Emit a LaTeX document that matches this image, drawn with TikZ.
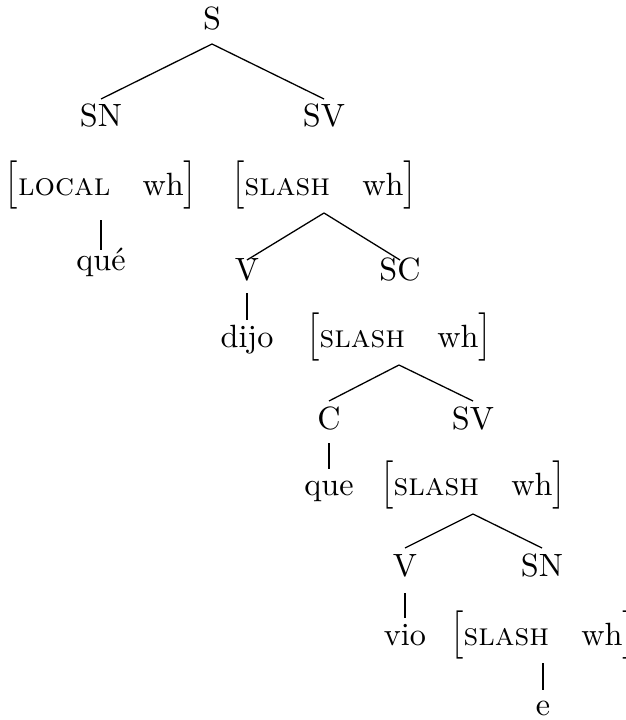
\documentclass[tikz,border=0pt]{standalone}
\usepackage{graphicx}
\usetikzlibrary{calc}
\newcommand{\avmlb}{\scalebox{1}[1.25]{$\bigl[$}}
\newcommand{\avmrb}{\scalebox{1}[1.25]{$\bigr]$}}
\newcommand{\avmbox}[1]{\avmlb\textsc{#1}\quad wh\avmrb}
\begin{document}
\begin{tikzpicture}[x=0.3106pt,y=-0.3106pt,
  every node/.style={inner sep=0pt, anchor=base},
  branch/.style={line width=0.4pt}]
\useasboundingbox (0,0) rectangle (625,720);
% nodes
\node (S)    at (212,30)  {S};
\node (SN1)  at (101,127) {SN};
\node (SV1)  at (324,127) {SV};
\node (A1)   at (101,195) {\avmbox{local}};
\node (A2)   at (324,195) {\avmbox{slash}};
\node (que1) at (101,270) {qué};
\node (V1)   at (247,280) {V};
\node (SC)   at (400,280) {SC};
\node (dijo) at (247,347) {dijo};
\node (A3)   at (399,347) {\avmbox{slash}};
\node (C)    at (329,429) {C};
\node (SV2)  at (473,429) {SV};
\node (que2) at (329,495) {que};
\node (A4)   at (473,495) {\avmbox{slash}};
\node (V2)   at (405,576) {V};
\node (SN2)  at (542,576) {SN};
\node (vio)  at (405,645) {vio};
\node (A5)   at (543,645) {\avmbox{slash}};
\node (e)    at (543,715) {e};
% branches
\draw[branch] ($(S.base)+(0,14)$) -- ($(SN1.base)+(0,-28)$);
\draw[branch] ($(S.base)+(0,14)$) -- ($(SV1.base)+(0,-28)$);
\draw[branch] ($(A1.base)+(0,25)$) -- ($(que1.base)+(0,-20)$);
\draw[branch] ($(A2.base)+(0,18)$) -- ($(V1.base)+(0,-20)$);
\draw[branch] ($(A2.base)+(0,18)$) -- ($(SC.base)+(0,-20)$);
\draw[branch] ($(V1.base)+(0,13)$) -- ($(dijo.base)+(0,-27)$);
\draw[branch] ($(A3.base)+(0,18)$) -- ($(C.base)+(0,-28)$);
\draw[branch] ($(A3.base)+(0,18)$) -- ($(SV2.base)+(0,-28)$);
\draw[branch] ($(C.base)+(0,14)$) -- ($(que2.base)+(0,-26)$);
\draw[branch] ($(A4.base)+(0,19)$) -- ($(V2.base)+(0,-28)$);
\draw[branch] ($(A4.base)+(0,19)$) -- ($(SN2.base)+(0,-28)$);
\draw[branch] ($(V2.base)+(0,17)$) -- ($(vio.base)+(0,-27)$);
\draw[branch] ($(A5.base)+(0,18)$) -- ($(e.base)+(0,-25)$);
\end{tikzpicture}
\end{document}
